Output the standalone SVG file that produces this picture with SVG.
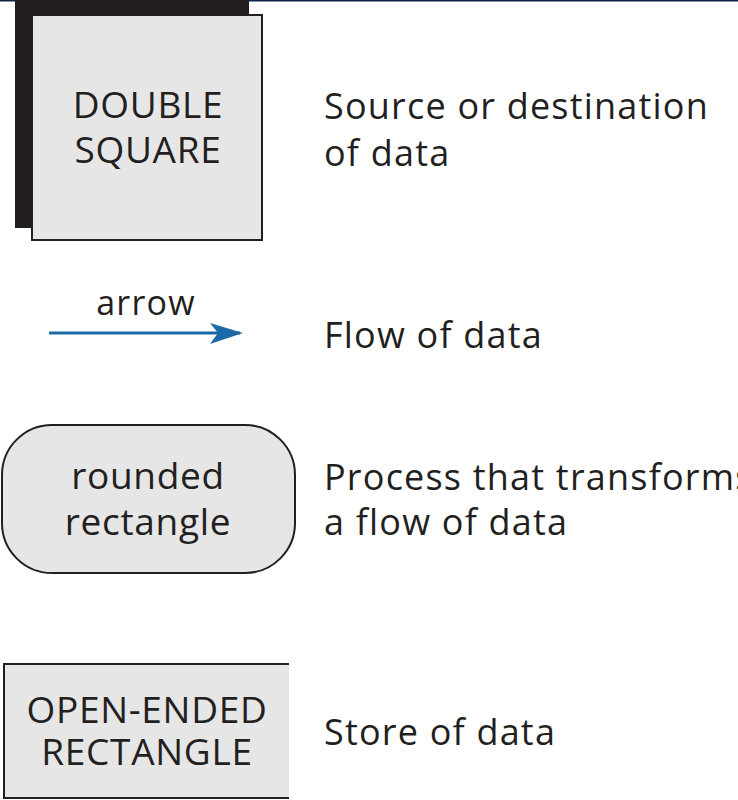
<svg xmlns="http://www.w3.org/2000/svg" width="738" height="800" viewBox="0 0 738 800">
<style>
.lbl{font-family:"Open Sans","Noto Sans","Liberation Sans",sans-serif;font-size:37px;letter-spacing:0.7px;fill:#231f20;text-anchor:middle}
.desc{font-family:"Open Sans","Noto Sans","Liberation Sans",sans-serif;font-size:36px;letter-spacing:1.2px;fill:#231f20}
.shape{fill:#e6e6e6;stroke:#231f20;stroke-width:2}
</style>
<rect x="0" y="0" width="738" height="800" fill="#fff"/>
<rect x="0" y="0" width="738" height="1.5" fill="#0d2147"/>
<g id="double-square">
<rect x="15" y="0" width="234" height="228" fill="#231f20"/>
<rect class="shape" x="32" y="15" width="230" height="225"/>
<text class="lbl" x="148" y="118">DOUBLE</text>
<text class="lbl" x="148" y="163">SQUARE</text>
</g>
<g id="double-square-desc">
<text class="desc" x="324" y="119">Source or destination</text>
<text class="desc" x="324" y="166">of data</text>
</g>
<g id="connectors">
<line x1="49" y1="333" x2="240" y2="333" stroke="#1a6aa8" stroke-width="3"/>
<path d="M210,323 L243,333 L210,344 L218,333 Z" fill="#1a6aa8"/>
</g>
<g id="arrow-label">
<text class="lbl" x="146" y="315" style="font-size:34px;letter-spacing:1.2px">arrow</text>
<text class="desc" x="324" y="348">Flow of data</text>
</g>
<g id="rounded-rectangle">
<rect class="shape" x="2" y="425" width="293" height="148" rx="50" ry="50"/>
<text class="lbl" x="148" y="489">rounded</text>
<text class="lbl" x="148" y="535">rectangle</text>
</g>
<g id="rounded-desc">
<text class="desc" x="324" y="490">Process that transforms</text>
<text class="desc" x="324" y="535">a flow of data</text>
</g>
<g id="open-ended-rectangle">
<rect x="4" y="664" width="285" height="134" fill="#e6e6e6"/>
<path d="M289,664 L4,664 L4,798 L289,798" fill="none" stroke="#231f20" stroke-width="2"/>
<text class="lbl" x="147" y="723">OPEN-ENDED</text>
<text class="lbl" x="147" y="765">RECTANGLE</text>
</g>
<g id="open-ended-desc">
<text class="desc" x="324" y="745">Store of data</text>
</g>
</svg>
